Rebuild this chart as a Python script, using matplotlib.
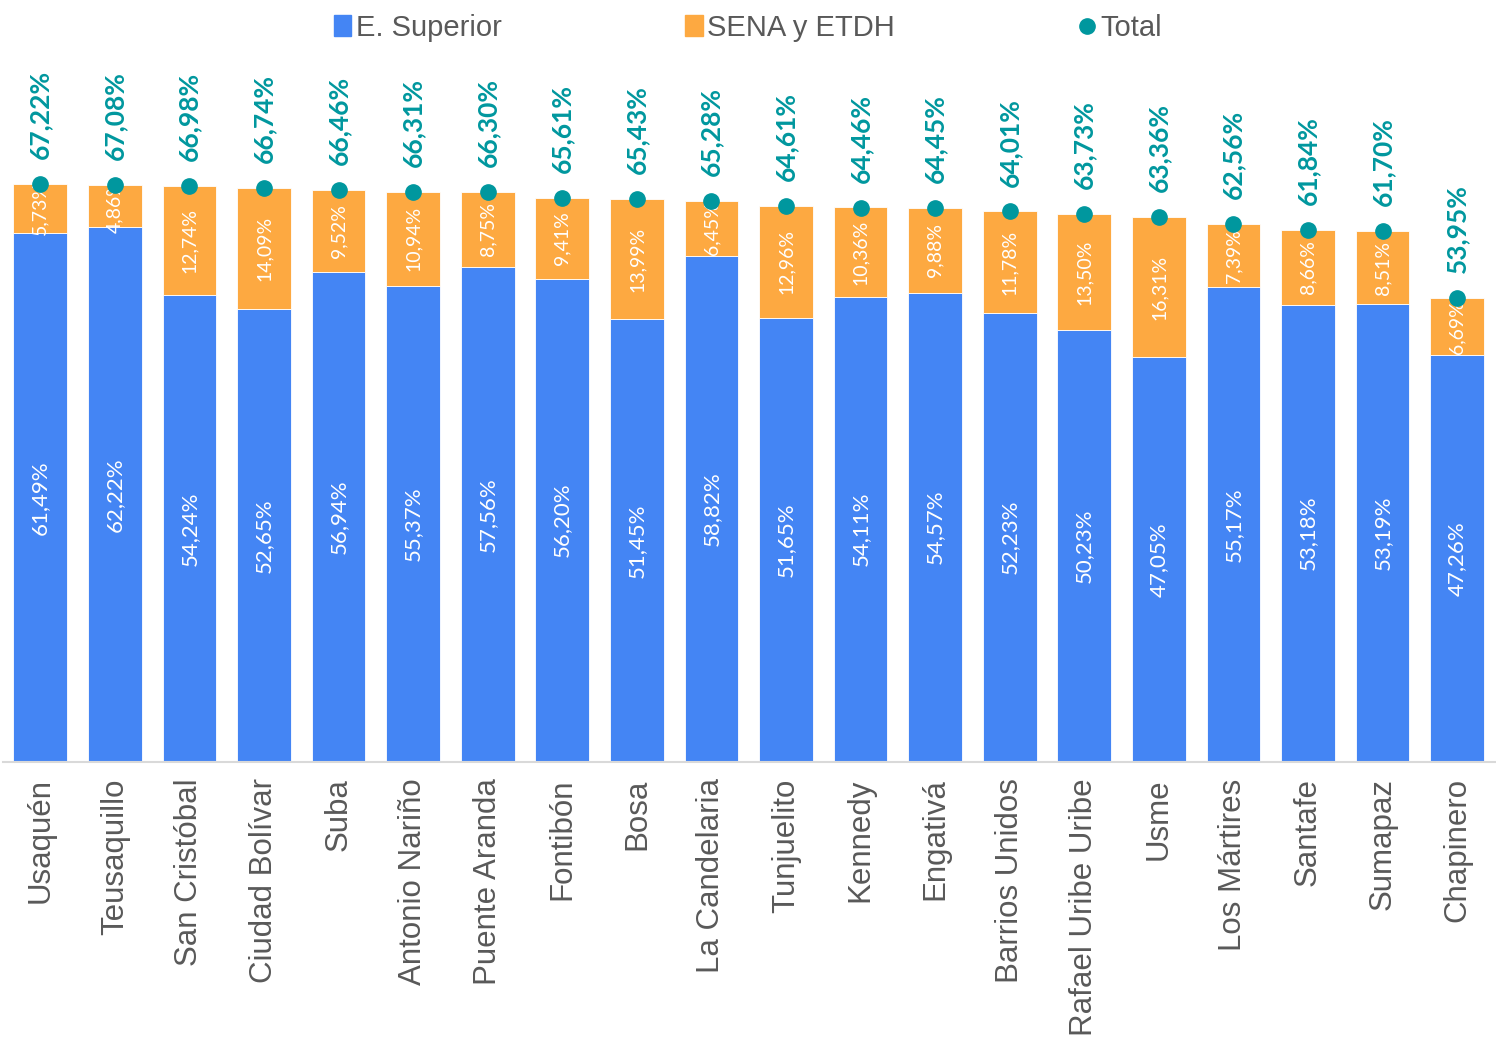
import numpy as np
import matplotlib.pyplot as plt
from matplotlib.lines import Line2D
from matplotlib.patches import Patch

localidades = ['Usaquén', 'Teusaquillo', 'San Cristóbal', 'Ciudad Bolívar', 'Suba',
               'Antonio Nariño', 'Puente Aranda', 'Fontibón', 'Bosa', 'La Candelaria',
               'Tunjuelito', 'Kennedy', 'Engativá', 'Barrios Unidos', 'Rafael Uribe Uribe',
               'Usme', 'Los Mártires', 'Santafe', 'Sumapaz', 'Chapinero']
superior = [61.49, 62.22, 54.24, 52.65, 56.94, 55.37, 57.56, 56.20, 51.45, 58.82,
            51.65, 54.11, 54.57, 52.23, 50.23, 47.05, 55.17, 53.18, 53.19, 47.26]
sena = [5.73, 4.86, 12.74, 14.09, 9.52, 10.94, 8.75, 9.41, 13.99, 6.45,
        12.96, 10.36, 9.88, 11.78, 13.50, 16.31, 7.39, 8.66, 8.51, 6.69]
total = [67.22, 67.08, 66.98, 66.74, 66.46, 66.31, 66.30, 65.61, 65.43, 65.28,
         64.61, 64.46, 64.45, 64.01, 63.73, 63.36, 62.56, 61.84, 61.70, 53.95]

azul = '#4485F4'
naranja = '#FDA941'
verde = '#00979E'

def pct(v):
    return f'{v:.2f}%'.replace('.', ',')

fig = plt.figure(figsize=(14.96, 10.42), dpi=100)
ax = fig.add_axes([0.002, 0.269, 0.997, 0.66])

x = np.arange(len(localidades))
ax.bar(x, superior, 0.72, color=azul, edgecolor='white', linewidth=0.6)
ax.bar(x, sena, 0.72, bottom=superior, color=naranja, edgecolor='white', linewidth=0.6)
ax.plot(x, total, 'o', color=verde, markersize=11, zorder=5)

for i in range(len(x)):
    ax.text(x[i], superior[i] / 2, pct(superior[i]), rotation=90, ha='center', va='center',
            color='white', fontsize=16, family='Lato')
    ax.text(x[i], superior[i] + sena[i] / 2, pct(sena[i]), rotation=90, ha='center',
            va='center', color='white', fontsize=14, family='Lato')
    ax.text(x[i], total[i] + 2.9, pct(total[i]), rotation=90, ha='center', va='bottom',
            color=verde, fontsize=19, fontweight='bold', family='Lato')

ax.set_xlim(-0.5, len(x) - 0.5)
ax.set_ylim(0, 80)
ax.set_yticks([])
ax.set_xticks(x)
ax.set_xticklabels(localidades, rotation=90, fontsize=22.5, color='#595959',
                   family='Liberation Sans')
ax.tick_params(axis='x', length=0, pad=12)
for s in ['top', 'right', 'left']:
    ax.spines[s].set_visible(False)
ax.spines['bottom'].set_color('#D9D9D9')
ax.spines['bottom'].set_linewidth(1.5)

handles = [Patch(color=azul, label='E. Superior'),
           Patch(color=naranja, label='SENA y ETDH'),
           Line2D([], [], marker='o', ls='', color=verde, markersize=11, label='Total')]
leg = fig.legend(handles=handles, loc='upper center', bbox_to_anchor=(0.5, 1.012), ncol=3,
                 frameon=False, columnspacing=6.3, handlelength=0.6,
                 handletextpad=0.15, prop={'family': 'Liberation Sans', 'size': 21})
for t in leg.get_texts():
    t.set_color('#595959')

fig.savefig('out.png', dpi=100)
